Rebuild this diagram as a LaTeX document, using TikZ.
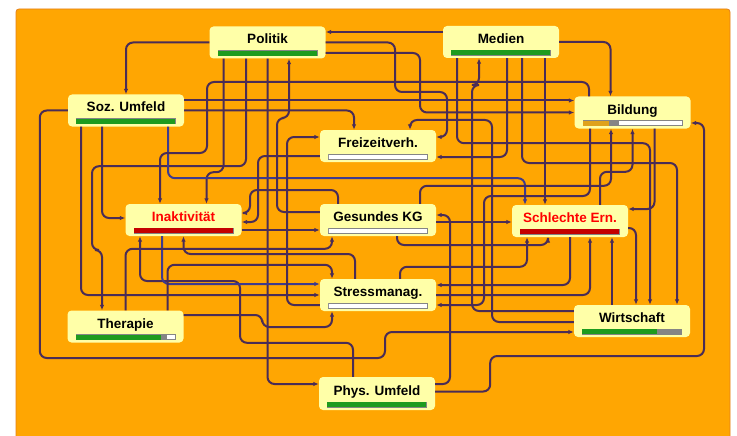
\documentclass[tikz,border=0pt]{standalone}
\usepackage{fontspec}
\setmainfont{Liberation Sans}
\usepackage{tikz}
\usetikzlibrary{positioning,calc,arrows.meta}
\definecolor{bgorange}{HTML}{FFA602}
\definecolor{boxfill}{HTML}{FFFFA8}
\definecolor{linkcol}{HTML}{4A2C56}
\definecolor{linkblue}{HTML}{3E3A8E}
\definecolor{barg}{HTML}{1E9B1E}
\definecolor{barr}{HTML}{C40000}
\definecolor{bargold}{HTML}{DFA21C}
\definecolor{bargray}{HTML}{858585}
\definecolor{redtext}{HTML}{FF0000}

\newcommand{\levelbar}[4]{%
  \filldraw[draw=bargray,fill=white,line width=0.6pt] ([xshift=8.5pt,yshift=3pt]#1.south west) rectangle ([xshift=-8.5pt,yshift=8pt]#1.south east);
  \fill[bargray] ([xshift=8.5pt,yshift=3pt]#1.south west) rectangle ++({99*#4},-5);
  \fill[#2] ([xshift=8.5pt,yshift=3pt]#1.south west) rectangle ++({99*#3},-5);
}

\begin{document}
\begin{tikzpicture}[x=1pt,y=-1pt,
  box/.style={rounded corners=4pt,fill=boxfill,minimum width=116pt,minimum height=32pt,inner sep=0pt,
    text height=10pt,text depth=7pt,font=\fontsize{13.5}{15}\selectfont\bfseries},
  redbox/.style={box,text=redtext},
  link/.style={draw=linkcol,line width=2pt,rounded corners=7pt,-{Latex[length=5.5pt,width=4.5pt]}},
  linkb/.style={link,draw=linkblue}]
\useasboundingbox (0,0) rectangle (737,436);
\fill[white] (0,0) rectangle (737,436);
\filldraw[fill=bgorange,draw=orange!60!brown,line width=0.8pt,rounded corners=3pt] (16,9) rectangle (730,440);

\node[box] (pol) at (267.5,42.5) {Politik};
\node[box] (med) at (501,42) {Medien};
\node[box] (soz) at (126,110.5) {Soz. Umfeld};
\node[box] (bil) at (632.5,112.5) {Bildung};
\node[box] (frz) at (378,146) {Freizeitverh.};
\node[redbox] (ina) at (183.5,220) {Inaktivität};
\node[box] (gkg) at (378,220) {Gesundes KG};
\node[redbox] (ser) at (570,221) {Schlechte Ern.};
\node[box] (str) at (378,295) {Stressmanag.};
\node[box] (the) at (125.5,326.5) {Therapie};
\node[box] (wir) at (632,321) {Wirtschaft};
\node[box,minimum height=33pt] (phy) at (377,393.5) {Phys. Umfeld};

\draw[link] (pol.west) -| (soz.north);
\draw[link] ([yshift=10pt]med.west) -- ([yshift=10pt]med.west -| pol.east);
\draw[link] (med.east) -| ([xshift=-22pt]bil.north);
\draw[link] ([yshift=12pt]bil.west -| soz.east) -- ([yshift=12pt]bil.west);
\draw[link] (soz.east) -| ([xshift=-24pt]frz.north);
\draw[link] ([xshift=-45pt]soz.south) |- (str.west);
\draw[link] ([xshift=-24pt]soz.south) |- ([yshift=2pt]ina.west);
\draw[link] (soz.west) -- ++(-28,0) |- (385,358) |- ([yshift=-11pt]wir.west);
\draw[link] ([yshift=2pt]phy.east) -- ++(55,0) |- (704,356) |- ([yshift=-10.5pt]bil.east);
\draw[link] (pol.south) |- ([yshift=9.5pt]phy.west);
\draw[link] ([xshift=-44pt]pol.south) -- ++(0,113.5) -| ([xshift=23pt]ina.north);
\draw[link] ([xshift=-21.5pt]pol.south) -- ++(0,107.5) -| (92,250) -| ([xshift=-23.5pt]the.north);
\draw[linkb] ([xshift=42pt]soz.south) -- ++(0,51.5) -| ([xshift=-45pt]ser.north);
\draw[link] ([xshift=-24pt]phy.north) -- ++(0,-34) -| (240,281) -| ([xshift=-43.5pt]ina.south);
\draw[linkb] ([xshift=-21.5pt]ina.south) |- ([yshift=11pt]str.west);
\draw[link] (the.north) -- ++(0,-61.5) -| ([xshift=-46pt]gkg.south);
\draw[link] ([xshift=42pt]the.north) -- ++(0,-45.5) -| ([xshift=-46pt]str.north);
\draw[link] ([yshift=11.5pt]the.east) -- ++(78.5,0) -- ++(0,12) -| ([xshift=-46pt]str.south);
\draw[link] ([yshift=-7pt]ser.east) -| ([xshift=4pt]wir.north);
\draw[link] ([xshift=42pt]ser.south |- wir.north) -- ([xshift=42pt]ser.south);
\draw[link] ([xshift=22pt]bil.south) |- ([yshift=12pt]ser.east);
\draw[link] ([xshift=-44pt]med.south) -- ++(0,85) -| ([xshift=18pt]wir.north);
\draw[link] ([yshift=-10.5pt]pol.east) -| (420,112.5) -- (bil.west);
\draw[link] (pol.east) -| (395,92) -| (447,137) -- ([yshift=9pt]frz.east);
\draw[link] ([xshift=6pt]med.south) |- ([yshift=-11pt]frz.east);
\draw[link] ([yshift=10pt]wir.west) -| (472,85) -| ([xshift=-22pt]med.south);
\draw[link] ([yshift=-1pt]wir.west) -| (492,120) -| ([xshift=32pt]frz.north);
\draw[link] ([xshift=21pt]med.south) |- (677,163) -- ([xshift=45pt]wir.north);
\draw[link] ([xshift=-25pt]ser.north |- med.south) -- ([xshift=-25pt]ser.north);
\draw[link] ([xshift=42pt]gkg.north) -- ++(0,-18) -| ([xshift=-21.5pt]bil.south);
\draw[link] ([xshift=30pt]ser.north) -- ++(0,-33) -| (bil.south);
\draw[link] ([yshift=-2pt]gkg.east) -- ([yshift=-2pt]gkg.east -| ser.west);
\draw[link] ([yshift=9.5pt]phy.east) -| (450,215) -- ([yshift=5pt]gkg.east);
\draw[link] (ser.south) |- ([yshift=10pt]str.east);
\draw[link] (str.east) -| ([xshift=20pt]ser.south);
\draw[link] ([xshift=-42.5pt]bil.south) |- (484,196) |- ([yshift=-10pt]str.east);
\draw[link] ([yshift=-10pt]str.west) -| (287,137) -- ([yshift=9pt]frz.west);
\draw[link] ([yshift=8pt]gkg.west) -| (277,118) -| ([xshift=21.5pt]pol.south);
\draw[link] ([xshift=-40pt]gkg.north) |- (250,190) |- ([yshift=7pt]ina.east);
\draw[link] ([yshift=-10pt]frz.west) -| (258,222) -- ([yshift=-2pt]ina.east);
\draw[link] ([xshift=19pt]gkg.south) |- (548,245) -- ([xshift=-22pt]ser.south);
\draw[link] ([xshift=22pt]str.north) -- ++(0,-12) -| ([xshift=-43pt]ser.south);
\draw[link] ([xshift=-23pt]str.north) |- (183.5,254) -- (ina.south);
\draw[link] ([yshift=-10pt]ina.east) -- ([yshift=-10pt]ina.east -| gkg.west);
\draw[link] ([xshift=-43.5pt]bil.north) |- (207,82) -- (207,153) -| ([xshift=-23.5pt]ina.north);

\levelbar{pol}{barg}{1}{1}
\levelbar{med}{barg}{1}{1}
\levelbar{soz}{barg}{1}{1}
\levelbar{bil}{bargold}{0.26}{0.37}
\levelbar{frz}{white}{0}{0}
\levelbar{ina}{barr}{1}{1}
\levelbar{gkg}{white}{0}{0}
\levelbar{ser}{barr}{1}{1}
\levelbar{str}{white}{0}{0}
\levelbar{the}{barg}{0.86}{0.92}
\levelbar{wir}{barg}{0.75}{1}
\levelbar{phy}{barg}{1}{1}
\end{tikzpicture}
\end{document}
